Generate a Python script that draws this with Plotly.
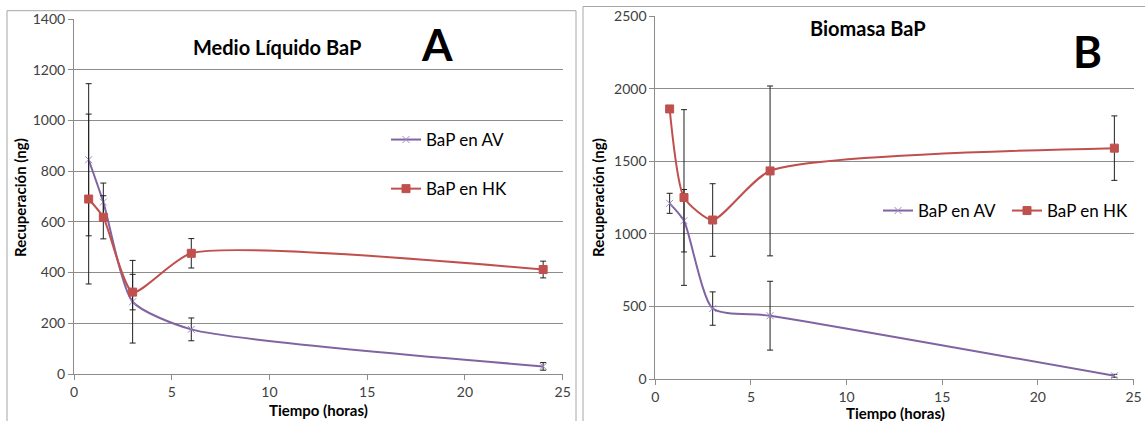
import plotly.graph_objects as go

W, H = 1145, 421

# ---------------- data ----------------
tiempo = [0.75, 1.5, 3, 6, 24]

a_av = [845, 678, 285, 176, 30]
a_av_err = [300, 75, 163, 45, 15]
a_hk = [690, 618, 323, 476, 412]
a_hk_err = [335, 85, 70, 58, 33]

b_av = [1210, 1090, 485, 436, 22]
b_av_err = [69, 215, 115, 237, 10]
b_hk = [1860, 1250, 1095, 1433, 1590]
b_hk_err = [0, 605, 250, 585, 222]

names = ["BaP en AV", "BaP en HK"]
x_ticks = [0, 5, 10, 15, 20, 25]
ya_ticks = [0, 200, 400, 600, 800, 1000, 1200, 1400]
yb_ticks = [0, 500, 1000, 1500, 2000, 2500]

PURPLE = "#8064A2"
RED = "#C0504D"
FONT = "Lato"
GRID = "#8C8C8C"
SMOOTH = 0.6


def px(x):
    return x / W


def py(y):
    return 1 - y / H


fig = go.Figure()


def add(x, y, err, name, color, symbol, xa, ya, legend, group):
    is_x = symbol.startswith("x")
    fig.add_trace(go.Scatter(
        x=x, y=y, name=name, mode="lines+markers",
        line=dict(color=color, width=2, shape="spline", smoothing=SMOOTH),
        marker=dict(symbol=symbol, size=8 if not is_x else 7,
                    color=color if not is_x else "#9C8AC4",
                    line=dict(width=1, color="#9C8AC4" if is_x else color)),
        error_y=dict(type="data", array=err, visible=True, color="#202020",
                     thickness=1, width=3),
        xaxis=xa, yaxis=ya, legend=legend, legendgroup=group,
    ))


add(tiempo, a_av, a_av_err, names[0], PURPLE, "x-thin", "x", "y", "legend", "a1")
add(tiempo, a_hk, a_hk_err, names[1], RED, "square", "x", "y", "legend", "a2")
add(tiempo, b_av, b_av_err, names[0], PURPLE, "x-thin", "x2", "y2", "legend2", "b1")
add(tiempo, b_hk, b_hk_err, names[1], RED, "square", "x2", "y2", "legend2", "b2")

axis_common = dict(
    showline=True, linecolor=GRID, linewidth=1, ticks="outside", ticklen=5,
    tickcolor=GRID, tickfont=dict(family=FONT, size=14, color="#404040"),
    zeroline=False, fixedrange=True, automargin=False, ticklabeloverflow="allow",
)

fig.update_layout(
    width=W, height=H, margin=dict(l=0, r=0, t=0, b=0, autoexpand=False),
    paper_bgcolor="white", plot_bgcolor="white",
    font=dict(family=FONT, color="black"),
    xaxis=dict(domain=[px(74), px(562.7)], range=[0, 25], tickvals=x_ticks,
               showgrid=False, anchor="y", **axis_common),
    yaxis=dict(domain=[py(374), py(19)], range=[0, 1400], tickvals=ya_ticks,
               showgrid=True, gridcolor=GRID, gridwidth=1, anchor="x", **axis_common),
    xaxis2=dict(domain=[px(655.3), px(1133.5)], range=[0, 25], tickvals=x_ticks,
                showgrid=False, anchor="y2", **axis_common),
    yaxis2=dict(domain=[py(379), py(16)], range=[0, 2500], tickvals=yb_ticks,
                showgrid=True, gridcolor=GRID, gridwidth=1, anchor="x2", **axis_common),
    legend=dict(x=px(386), y=py(122), xanchor="left", yanchor="top",
                orientation="v", itemwidth=30, tracegroupgap=24,
                font=dict(family=FONT, size=17, color="black"),
                bgcolor="rgba(0,0,0,0)"),
    legend2=dict(x=px(878), y=py(193), xanchor="left", yanchor="top",
                 orientation="h", itemwidth=30, entrywidth=84, entrywidthmode="pixels",
                 font=dict(family=FONT, size=17, color="black"),
                 bgcolor="rgba(0,0,0,0)"),
    showlegend=True,
)

# panel frames
fig.add_shape(type="rect", xref="paper", yref="paper",
              x0=px(7), x1=px(576), y0=-0.05, y1=py(10.7),
              line=dict(color="#A6A6A6", width=1), layer="below")
fig.add_shape(type="rect", xref="paper", yref="paper",
              x0=px(583), x1=1.05, y0=-0.05, y1=py(6.5),
              line=dict(color="#A6A6A6", width=1), layer="below")

ann = [
    dict(text="<b>Medio Líquido BaP</b>", x=px(277), y=py(47), size=20),
    dict(text="<b>A</b>", x=px(437), y=py(44), size=44),
    dict(text="<b>Biomasa BaP</b>", x=px(868), y=py(28), size=20),
    dict(text="<b>B</b>", x=px(1087), y=py(51), size=44),
    dict(text="<b>Tiempo (horas)</b>", x=px(318), y=py(410), size=15),
    dict(text="<b>Tiempo (horas)</b>", x=px(895), y=py(413), size=15),
]
for a in ann:
    fig.add_annotation(text=a["text"], x=a["x"], y=a["y"], xref="paper", yref="paper",
                       xanchor="center", yanchor="middle", showarrow=False,
                       font=dict(family=FONT, size=a["size"], color="black"))
for xx in (20, 598):
    fig.add_annotation(text="<b>Recuperación (ng)</b>", x=px(xx), y=py(198),
                       xref="paper", yref="paper", xanchor="center", yanchor="middle",
                       showarrow=False, textangle=-90,
                       font=dict(family=FONT, size=15, color="black"))

fig.write_html(
    "out.html",
    config={"displayModeBar": False},
    post_script="document.body.style.margin='0px';document.body.style.overflow='hidden';",
)
